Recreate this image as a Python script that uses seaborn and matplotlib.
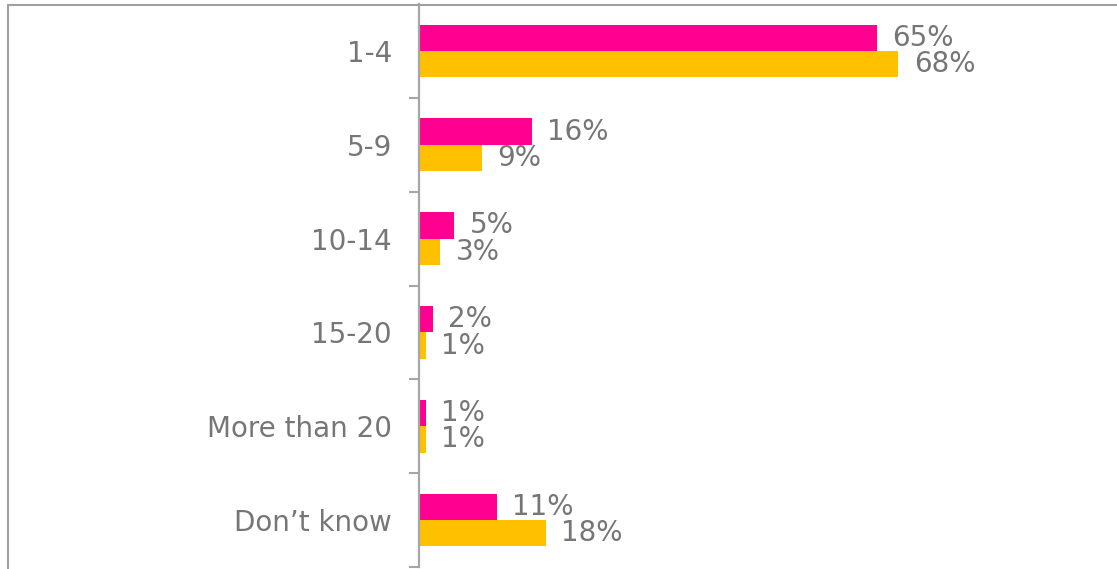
import matplotlib
matplotlib.use("Agg")
import matplotlib.pyplot as plt
from matplotlib.lines import Line2D
import pandas as pd
import seaborn as sns

# Survey answers, two series per category (percent)
categories = ["1-4", "5-9", "10-14", "15-20", "More than 20", "Don\u2019t know"]
series_names = ["Series 1", "Series 2"]
series_1 = [65, 16, 5, 2, 1, 11]
series_2 = [68, 9, 3, 1, 1, 18]
colors = ["#FF0090", "#FFC000"]

df = pd.DataFrame({
    "category": categories * 2,
    "series": [series_names[0]] * len(categories) + [series_names[1]] * len(categories),
    "value": series_1 + series_2,
})

sns.set_theme(style="white")
plt.rcParams["font.family"] = ["DejaVu Sans"]

W, H = 1117, 569
fig = plt.figure(figsize=(W / 100, H / 100), dpi=100)
ax = fig.add_axes([419 / W, 2 / H, (W - 419) / W, 563 / H])

sns.barplot(
    data=df, y="category", x="value", hue="series", order=categories,
    hue_order=series_names, palette=colors, saturation=1, orient="h",
    width=0.56, dodge=True, linewidth=0, legend=False, ax=ax,
)

text_gray = "#767676"
line_gray = "#A6A6A6"
font_size = 20

for container in ax.containers:
    ax.bar_label(container, fmt="%d%%", padding=11, fontsize=font_size, color=text_gray)

ax.set_xlim(0, 99)
ax.set_ylim(len(categories) - 0.5, -0.5)
ax.set_xlabel("")
ax.set_ylabel("")
ax.set_xticks([])

for side in ["top", "right", "bottom"]:
    ax.spines[side].set_visible(False)
ax.spines["left"].set_color(line_gray)
ax.spines["left"].set_linewidth(1.6)

# Category labels without marks; short marks between categories
ax.tick_params(axis="y", which="major", length=0, pad=19.5,
               labelsize=font_size, labelcolor=text_gray)
ax.set_yticks([i + 0.5 for i in range(len(categories))], minor=True)
ax.tick_params(axis="y", which="minor", length=7, width=1.5,
               color=line_gray, left=True)

# Outer frame of the chart area (left and top edges)
x0, y0 = 7.5 / W, (H - 5) / H
for xs, ys in [([x0, x0], [-0.05, y0]), ([x0, 1.05], [y0, y0])]:
    fig.add_artist(Line2D(xs, ys, transform=fig.transFigure,
                          color="#A0A0A0", linewidth=1.5, zorder=10))

fig.savefig("out.png", dpi=100)
